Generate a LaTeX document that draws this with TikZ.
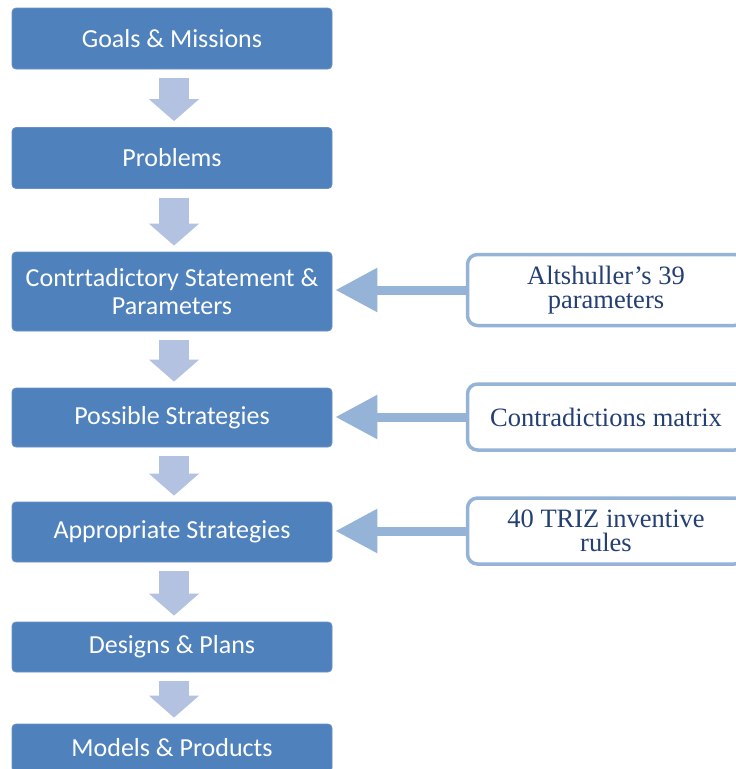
\documentclass[tikz,border=0pt]{standalone}
\usepackage{fontspec}
\setmainfont{Liberation Serif}
\newfontfamily\boxfont{Carlito}
\usetikzlibrary{arrows.meta}

\definecolor{stepblue}{HTML}{4F81BD}
\definecolor{stepedge}{HTML}{6690C6}
\definecolor{downblue}{HTML}{B2C2E0}
\definecolor{sideblue}{HTML}{95B3D7}
\definecolor{toolink}{HTML}{243F73}

\begin{document}
\begin{tikzpicture}[
  x=1pt, y=-1pt,
  every node/.style={inner sep=0pt},
  stage/.style={draw=stepedge, line width=0.8pt, fill=stepblue, rounded corners=4pt,
    minimum width=320pt, text=white, align=center,
    font=\boxfont\fontsize{26}{28}\selectfont},
  tool/.style={draw=sideblue, line width=3.5pt, fill=white, rounded corners=10pt,
    minimum width=277pt, text=toolink, align=center,
    font=\fontsize{26.5}{24}\selectfont},
  % block arrows: fat down arrows between stages, side arrows from the tools
  down/.style={draw=downblue, line width=30pt,
    -{Triangle[length=22pt, width=49pt]}, shorten <=9pt, shorten >=6pt},
  side/.style={draw=sideblue, line width=9pt,
    -{Triangle[length=42pt, width=42pt]}, shorten >=3pt}]

  \useasboundingbox (0,0) rectangle (736,769);

  % stages
  \node[stage, minimum height=61pt] (goals)    at (172,38.5)  {Goals \& Missions};
  \node[stage, minimum height=61pt] (problems) at (172,158)   {Problems};
  \node[stage, minimum height=79pt] (contra)   at (172,291.5) {Contrtadictory Statement \&\\Parameters};
  \node[stage, minimum height=59pt] (possible) at (172,417.5) {Possible Strategies};
  \node[stage, minimum height=60pt] (approp)   at (172,532)   {Appropriate Strategies};
  \node[stage, minimum height=50pt] (designs)  at (172,647)   {Designs \& Plans};
  \node[stage, minimum height=48pt] (models)   at (172,748)   {Models \& Products};

  % tools
  \node[tool, minimum height=71pt] (params) at (606,290) {Altshuller’s 39\\parameters};
  \node[tool, minimum height=66pt] (matrix) at (606,417) {Contradictions matrix};
  \node[tool, minimum height=66pt] (rules)  at (606,531) {40 TRIZ inventive\\rules};

  % arrows
  \draw[down] ([xshift=2pt]goals.south)    -- ([xshift=2pt]problems.north);
  \draw[down] ([xshift=2pt]problems.south) -- ([xshift=2pt]contra.north);
  \draw[down] ([xshift=2pt]contra.south)   -- ([xshift=2pt]possible.north);
  \draw[down] ([xshift=2pt]possible.south) -- ([xshift=2pt]approp.north);
  \draw[down] ([xshift=2pt]approp.south)   -- ([xshift=2pt]designs.north);
  \draw[down] ([xshift=2pt]designs.south)  -- ([xshift=2pt]models.north);

  \draw[side] (params.west) -- (params.west -| contra.east);
  \draw[side] (matrix.west) -- (matrix.west -| possible.east);
  \draw[side] (rules.west)  -- (rules.west -| approp.east);
\end{tikzpicture}
\end{document}
